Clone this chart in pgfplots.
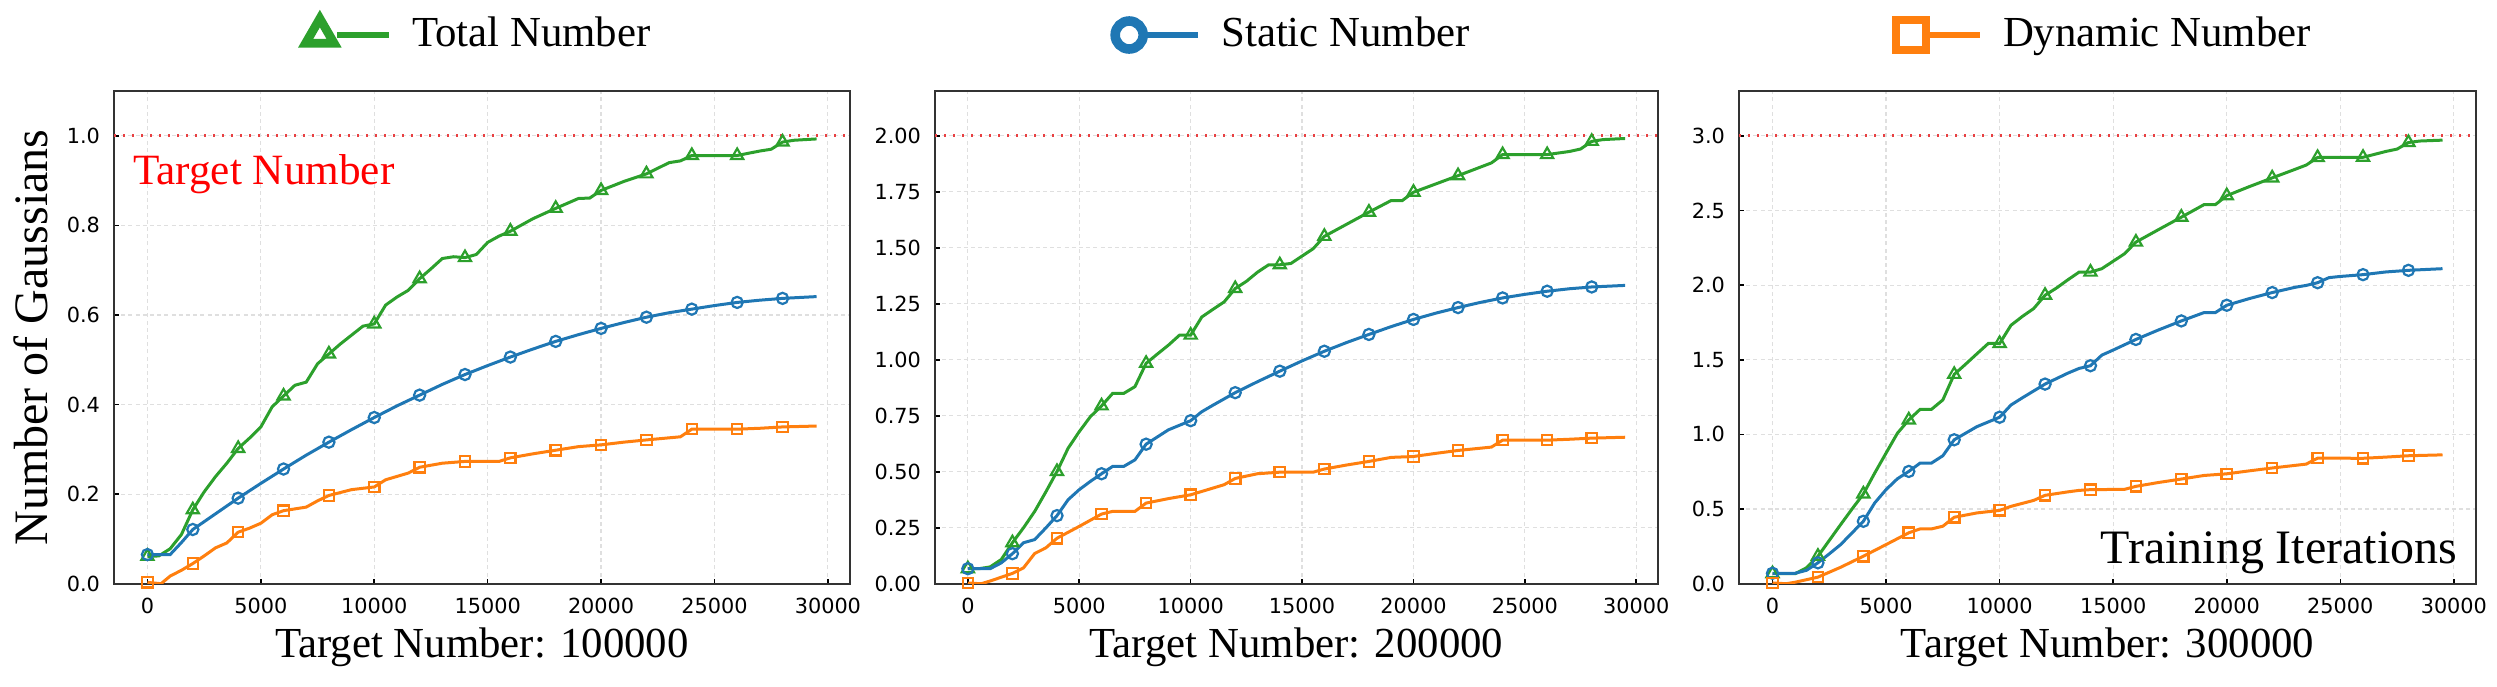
\documentclass[border=0pt]{standalone}
\usepackage{fontspec}
\setmainfont{Liberation Serif}
\newfontfamily\dejavu{DejaVu Sans}
\usepackage{pgfplots}
\pgfplotsset{compat=1.18}
\usepackage{pgfplotstable}

\definecolor{cgreen}{HTML}{2CA02C}
\definecolor{cblue}{HTML}{1F77B4}
\definecolor{corange}{HTML}{FF7F0E}
\definecolor{cred}{RGB}{232,64,66}

% values in units of 1e5 Gaussians
\pgfplotstableread{
x y
0 0.061
500 0.062
1000 0.078
1500 0.110
2000 0.165
2500 0.205
3000 0.239
3500 0.269
4000 0.302
4500 0.325
5000 0.350
5500 0.395
6000 0.419
6500 0.443
7000 0.450
7500 0.491
8000 0.513
8500 0.535
9000 0.555
9500 0.575
10000 0.580
10500 0.622
11000 0.640
11500 0.655
12000 0.681
12500 0.703
13000 0.726
13500 0.730
14000 0.728
14500 0.735
15000 0.762
15500 0.776
16000 0.787
17000 0.815
18000 0.838
19000 0.860
19500 0.861
20000 0.878
21000 0.898
22000 0.915
23000 0.940
23500 0.944
24000 0.956
26000 0.956
27000 0.966
27500 0.970
28000 0.986
28500 0.990
29500 0.993
}\totA
\pgfplotstableread{
x y
0 0.065
1000 0.065
1500 0.092
2000 0.121
3000 0.156
4000 0.191
5000 0.224
6000 0.256
7000 0.287
8000 0.316
9000 0.344
10000 0.371
11000 0.397
12000 0.421
13000 0.445
14000 0.467
15000 0.487
16000 0.506
17000 0.524
18000 0.541
19000 0.556
20000 0.570
21000 0.583
22000 0.595
23000 0.605
24000 0.613
25000 0.621
26000 0.628
27000 0.633
28000 0.637
29500 0.641
}\staA
\pgfplotstableread{
x y
0 0.003
600 0.000
1000 0.017
1500 0.030
2000 0.045
2500 0.062
3000 0.080
3500 0.091
4000 0.115
4500 0.124
5000 0.135
5500 0.154
6000 0.163
7000 0.171
7500 0.185
8000 0.197
9000 0.210
10000 0.216
10500 0.232
11500 0.247
12000 0.260
13000 0.269
14000 0.273
15500 0.273
16000 0.281
17000 0.290
18000 0.298
19000 0.306
20000 0.310
21000 0.316
22000 0.321
23500 0.328
24000 0.345
26000 0.345
27000 0.347
28000 0.350
29500 0.352
}\dynA

\pgfplotstableread{
x y
0 0.067
500 0.067
1000 0.075
1500 0.108
2000 0.183
2500 0.250
3000 0.323
3500 0.410
4000 0.501
4500 0.605
5000 0.679
5500 0.746
6000 0.794
6500 0.850
7000 0.850
7500 0.880
8000 0.984
8500 1.025
9000 1.065
9500 1.110
10000 1.110
10500 1.191
11000 1.225
11500 1.258
12000 1.318
12500 1.350
13000 1.391
13500 1.424
14000 1.424
14500 1.430
15000 1.463
15500 1.496
16000 1.551
17000 1.605
18000 1.659
19000 1.711
19500 1.711
20000 1.748
21000 1.785
22000 1.822
23000 1.860
23500 1.879
24000 1.916
26000 1.916
27000 1.930
27500 1.941
28000 1.975
28500 1.983
29500 1.988
}\totB
\pgfplotstableread{
x y
0 0.067
1000 0.067
1500 0.093
2000 0.134
2500 0.183
3000 0.197
3500 0.249
4000 0.304
4500 0.375
5000 0.420
5500 0.457
6000 0.491
6500 0.524
7000 0.524
7500 0.553
8000 0.623
9000 0.687
10000 0.728
10500 0.768
11000 0.797
12000 0.853
13000 0.902
14000 0.949
15000 0.995
16000 1.038
17000 1.077
18000 1.113
19000 1.148
20000 1.180
21000 1.208
22000 1.233
23000 1.256
24000 1.276
25000 1.292
26000 1.306
27000 1.317
28000 1.325
29500 1.332
}\staB
\pgfplotstableread{
x y
0 0.003
600 0.000
1000 0.012
2000 0.046
2500 0.071
3000 0.135
3500 0.160
4000 0.203
5000 0.256
6000 0.311
6500 0.323
7500 0.323
8000 0.360
9000 0.380
10000 0.397
10500 0.412
11500 0.442
12000 0.470
13000 0.491
14000 0.498
15500 0.498
16000 0.512
17000 0.530
18000 0.546
19000 0.564
20000 0.568
21000 0.582
22000 0.595
23500 0.610
24000 0.641
26000 0.641
27000 0.645
28000 0.650
29500 0.654
}\dynB

\pgfplotstableread{
x y
0 0.067
1000 0.067
1500 0.107
2000 0.184
2500 0.290
3000 0.396
3500 0.500
4000 0.601
4500 0.741
5000 0.875
5500 1.008
6000 1.097
6500 1.168
7000 1.168
7500 1.231
8000 1.402
8500 1.470
9000 1.540
9500 1.609
10000 1.609
10500 1.731
11000 1.790
11500 1.843
12000 1.932
12500 1.980
13000 2.035
13500 2.087
14000 2.087
14500 2.110
15000 2.160
15500 2.210
16000 2.288
17000 2.372
18000 2.455
19000 2.539
19500 2.539
20000 2.599
21000 2.660
22000 2.718
23000 2.775
23500 2.804
24000 2.855
26000 2.856
27000 2.895
27500 2.911
28000 2.955
28500 2.965
29500 2.971
}\totC
\pgfplotstableread{
x y
0 0.070
1000 0.070
1500 0.090
2000 0.140
2500 0.200
3000 0.262
3500 0.340
4000 0.418
4500 0.541
5000 0.630
5500 0.703
6000 0.752
6500 0.808
7000 0.808
7500 0.857
8000 0.964
9000 1.052
10000 1.115
10500 1.197
11000 1.245
12000 1.337
13000 1.410
13500 1.442
14000 1.460
14500 1.531
15000 1.565
16000 1.636
17000 1.700
18000 1.760
19000 1.816
19500 1.816
20000 1.865
21000 1.910
22000 1.950
23000 1.985
23500 1.998
24000 2.016
24500 2.050
25000 2.058
26000 2.070
27000 2.088
28000 2.099
29500 2.110
}\staC
\pgfplotstableread{
x y
0 0.005
600 0.000
1000 0.010
2000 0.044
3000 0.110
4000 0.184
5000 0.262
6000 0.341
6500 0.367
7000 0.367
7500 0.385
8000 0.445
9000 0.474
10000 0.491
10500 0.518
11500 0.558
12000 0.592
13000 0.615
13500 0.625
14000 0.630
15500 0.632
16000 0.652
17000 0.678
18000 0.701
19000 0.725
20000 0.736
21000 0.756
22000 0.775
23500 0.801
24000 0.841
26000 0.840
27000 0.848
28000 0.857
29500 0.863
}\dynC

\tikzset{expo/.style={anchor=base west, inner sep=0pt, font=\dejavu\fontsize{5.2}{6}\selectfont}}

\pgfplotsset{
  panel/.style={
    scale only axis, height=123.175pt,
    xmin=-1475, xmax=30975, ymin=0,
    xtick={0,5000,...,30000},
    scaled x ticks=false, scaled y ticks=false,
    tick align=inside, tick pos=left, major tick length=1.2pt,
    every tick/.style={black, line width=0.4pt},
    axis line style={black!80, line width=0.5pt},
    grid=major, major grid style={gray!25, dash pattern=on 1pt off 0.8pt, line width=0.3pt},
    /pgf/number format/assume math mode=true,
    /pgf/number format/1000 sep={},
    ticklabel style={font=\dejavu\fontsize{5.2}{6}\selectfont},
    xlabel style={font=\fontsize{10.7}{12}\selectfont, at={(axis description cs:0.5,-0.15)}, anchor=base},
    legend style={draw=none, fill=none, at={(0.5,1)}, anchor=center, yshift=14pt,
      font=\fontsize{10.7}{12}\selectfont, column sep=3pt},
    legend image code/.code={
      \draw[##1, mark=none, line width=1.6pt] (4.25pt,0pt) -- (17.25pt,0pt);
      \draw[##1, line width=0pt] plot coordinates {(0pt,0pt)};
    },
  },
  ln/.style={line width=0.75pt, mark=none, forget plot},
  pts/.style={only marks, forget plot, mark options={fill=white, line width=0.55pt, solid},
    x filter/.expression={(mod(x,2000)==0 && x<29000) ? x : nan}},
  target/.style={cred, line width=0.7pt, dash pattern=on 0.6pt off 1.65pt, forget plot},
}

\begin{document}
\begin{tikzpicture}
\useasboundingbox (0,0) rectangle (624.25pt,171.5pt);

% panel 1
\begin{axis}[panel, at={(28.5pt,25.575pt)}, anchor=south west, width=184pt,
  ymax=1.1, ytick={0,0.2,...,1.0},
  yticklabel style={/pgf/number format/.cd, fixed, fixed zerofill, precision=1},
  xlabel={Target Number: 100000},
  ylabel={Number of Gaussians},
  ylabel style={font=\fontsize{12}{14}\selectfont, at={(axis description cs:-0.113,0.5)}, anchor=center}]
\addlegendimage{cgreen, mark=triangle, mark size=4.1pt, mark options={fill=white, line width=2.2pt, solid}}
\addlegendentry{Total Number}
\addplot[target] coordinates {(-1475,1) (30975,1)};
\addplot[ln, cgreen] table {\totA};
\addplot[pts, cgreen, mark=triangle, mark size=1.75pt] table {\totA};
\addplot[ln, cblue] table {\staA};
\addplot[pts, cblue, mark=o, mark size=1.4pt] table {\staA};
\addplot[ln, corange] table {\dynA};
\addplot[pts, corange, mark=square, mark size=1.3pt] table {\dynA};
\node[anchor=base west, text=red, inner sep=0pt, font=\fontsize{10.8}{12}\selectfont] at (rel axis cs:0.025,0.81) {Target Number};
\node[expo] at ([yshift=1.25pt]rel axis cs:0,1) {1e5};
\end{axis}

% panel 2
\begin{axis}[panel, at={(233.75pt,25.575pt)}, anchor=south west, width=180.75pt,
  ymax=2.2, ytick={0,0.25,...,2.0},
  yticklabel style={/pgf/number format/.cd, fixed, fixed zerofill, precision=2},
  xlabel={Target Number: 200000}]
\addlegendimage{cblue, mark=o, mark size=3.5pt, mark options={fill=white, line width=2.4pt, solid}}
\addlegendentry{Static Number}
\addplot[target] coordinates {(-1475,2) (30975,2)};
\addplot[ln, cgreen] table {\totB};
\addplot[pts, cgreen, mark=triangle, mark size=1.75pt] table {\totB};
\addplot[ln, cblue] table {\staB};
\addplot[pts, cblue, mark=o, mark size=1.4pt] table {\staB};
\addplot[ln, corange] table {\dynB};
\addplot[pts, corange, mark=square, mark size=1.3pt] table {\dynB};
\node[expo] at ([yshift=1.25pt]rel axis cs:0,1) {1e5};
\end{axis}

% panel 3
\begin{axis}[panel, at={(434.75pt,25.575pt)}, anchor=south west, width=184.25pt,
  ymax=3.3, ytick={0,0.5,...,3.0},
  yticklabel style={/pgf/number format/.cd, fixed, fixed zerofill, precision=1},
  xlabel={Target Number: 300000}]
\addlegendimage{corange, mark=square, mark size=3.7pt, mark options={fill=white, line width=2pt, solid}}
\addlegendentry{Dynamic Number}
\addplot[target] coordinates {(-1475,3) (30975,3)};
\addplot[ln, cgreen] table {\totC};
\addplot[pts, cgreen, mark=triangle, mark size=1.75pt] table {\totC};
\addplot[ln, cblue] table {\staC};
\addplot[pts, cblue, mark=o, mark size=1.4pt] table {\staC};
\addplot[ln, corange] table {\dynC};
\addplot[pts, corange, mark=square, mark size=1.3pt] table {\dynC};
\node[anchor=base east, inner sep=0pt, font=\fontsize{12}{14}\selectfont] at (rel axis cs:0.9756,0.042) {Training Iterations};
\node[expo] at ([yshift=1.25pt]rel axis cs:0,1) {1e5};
\end{axis}
\end{tikzpicture}
\end{document}
